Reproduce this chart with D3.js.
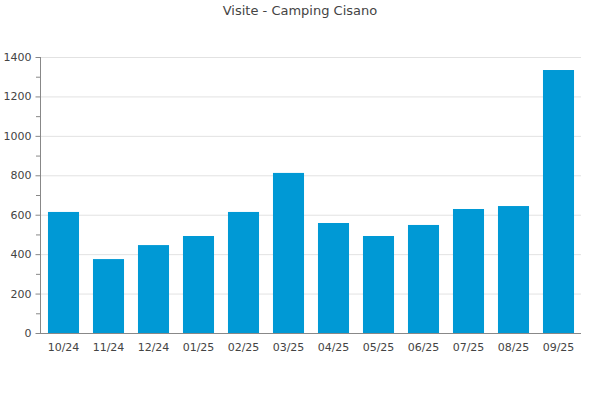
<!DOCTYPE html>
<html><head><meta charset="utf-8">
<script src="https://cdn.jsdelivr.net/npm/d3@7"></script>
<style>body{margin:0;background:#fff}svg{display:block;font-family:"DejaVu Sans",sans-serif}</style>
</head><body><svg id="c" width="600" height="400"></svg>
<script>
const title = "Visite - Camping Cisano";
const categories = ["10/24","11/24","12/24","01/25","02/25","03/25","04/25","05/25","06/25","07/25","08/25","09/25"];
const visits = [614, 375, 446, 492, 614, 812, 558, 492, 548, 629, 644, 1334];
const yTicks = [0,200,400,600,800,1000,1200,1400];
const yMinorTicks = [100,300,500,700,900,1100,1300];

const svg = d3.select("#c");
const mLeft = 40, mRight = 581, mTop = 57, mBottom = 333;
const x = d3.scaleBand().domain(categories).range([mLeft+1, mRight]).paddingInner(0.31).paddingOuter(0.155);
const y = d3.scaleLinear().domain([0,1400]).range([mBottom, mTop]);

svg.append("text").attr("x",300).attr("y",15).attr("text-anchor","middle")
  .attr("font-size",13).attr("fill","#444").text(title);

svg.append("g").selectAll("line").data(yTicks.slice(1)).join("line")
  .attr("x1",mLeft).attr("x2",mRight).attr("y1",d=>y(d)+0.5).attr("y2",d=>y(d)+0.5)
  .attr("stroke","#e2e2e2");

svg.append("g").selectAll("rect").data(visits).join("rect")
  .attr("x",(d,i)=>x(categories[i])).attr("width",x.bandwidth())
  .attr("y",d=>y(d)).attr("height",d=>mBottom-y(d)).attr("fill","#0099d5");

const ya = svg.append("g").attr("transform",`translate(${mLeft+0.5},0)`)
  .call(d3.axisLeft(y).tickValues(yTicks).tickSize(5).tickPadding(4).tickFormat(d3.format("d")));
ya.select(".domain").attr("stroke","#888").attr("d",`M0,${mTop}V${mBottom}`);
ya.selectAll(".tick line").attr("stroke","#888");
ya.selectAll("text").attr("font-size",11).attr("fill","#444").attr("font-family","DejaVu Sans");
svg.append("g").selectAll("line").data(yMinorTicks).join("line")
  .attr("x1",mLeft-4).attr("x2",mLeft).attr("y1",d=>y(d)+0.5).attr("y2",d=>y(d)+0.5).attr("stroke","#888");

const xa = svg.append("g").attr("transform",`translate(0,${mBottom+0.5})`)
  .call(d3.axisBottom(x).tickSize(0).tickPadding(10));
xa.select(".domain").attr("stroke","#888").attr("d",`M${mLeft},0H${mRight}`);
xa.selectAll("text").attr("font-size",11).attr("fill","#444").attr("font-family","DejaVu Sans");
</script></body></html>
